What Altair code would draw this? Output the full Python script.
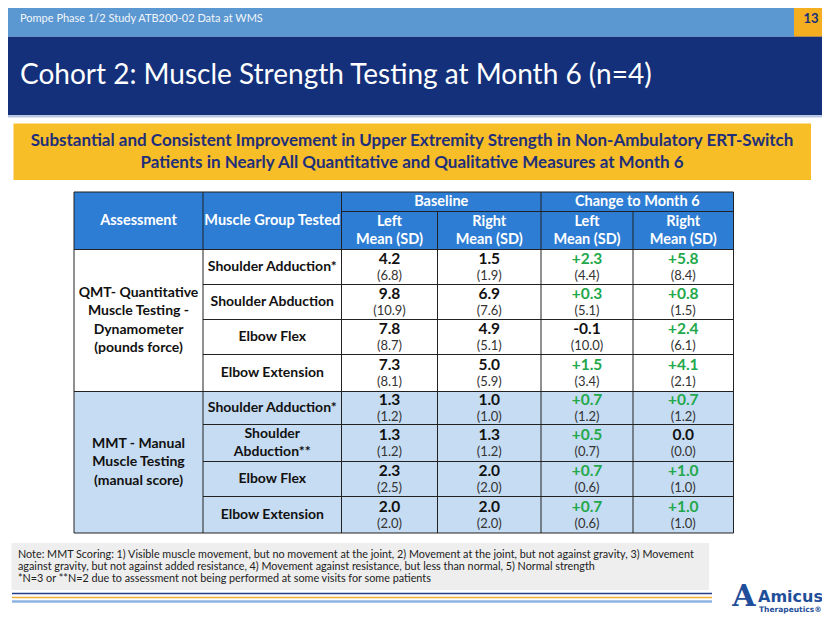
import altair as alt
import pandas as pd

# ------------------------------------------------------------------ data
header_text = "Pompe Phase 1/2 Study ATB200-02 Data at WMS"
page_number = "13"
title_text = "Cohort 2: Muscle Strength Testing at Month 6 (n=4)"
banner_lines = [
    "Substantial and Consistent Improvement in Upper Extremity Strength in Non-Ambulatory ERT-Switch",
    "Patients in Nearly All Quantitative and Qualitative Measures at Month 6",
]
col_headers = ["Assessment", "Muscle Group Tested"]
group_headers = ["Baseline", "Change to Month 6"]
sub_headers = ["Left", "Right", "Left", "Right"]
sub_header_unit = "Mean (SD)"
assessment_lines = [
    ["QMT- Quantitative", "Muscle Testing  -", "Dynamometer", "(pounds force)"],
    ["MMT - Manual", "Muscle Testing", "(manual score)"],
]
muscle_groups = [
    ["Shoulder Adduction*"], ["Shoulder Abduction"], ["Elbow Flex"], ["Elbow Extension"],
    ["Shoulder Adduction*"], ["Shoulder", "Abduction**"], ["Elbow Flex"], ["Elbow Extension"],
]
baseline_left_mean = [4.2, 9.8, 7.8, 7.3, 1.3, 1.3, 2.3, 2.0]
baseline_left_sd = [6.8, 10.9, 8.7, 8.1, 1.2, 1.2, 2.5, 2.0]
baseline_right_mean = [1.5, 6.9, 4.9, 5.0, 1.0, 1.3, 2.0, 2.0]
baseline_right_sd = [1.9, 7.6, 5.1, 5.9, 1.0, 1.2, 2.0, 2.0]
change_left_mean = [2.3, 0.3, -0.1, 1.5, 0.7, 0.5, 0.7, 0.7]
change_left_sd = [4.4, 5.1, 10.0, 3.4, 1.2, 0.7, 0.6, 0.6]
change_right_mean = [5.8, 0.8, 2.4, 4.1, 0.7, 0.0, 1.0, 1.0]
change_right_sd = [8.4, 1.5, 6.1, 2.1, 1.2, 0.0, 1.0, 1.0]
note_lines = [
    "Note: MMT Scoring: 1) Visible muscle movement, but no movement at the joint, 2) Movement at the joint, but not against gravity, 3) Movement",
    "against gravity, but not against added resistance, 4) Movement against resistance, but less than normal, 5) Normal strength",
    "*N=3 or **N=2 due to assessment not being performed at some visits for some patients",
]
logo_name = "Amicus"
logo_sub = "Therapeutics\u00ae"

# ------------------------------------------------------------------ layout
W, H = 814, 607
FONT = "Lato"
DARK = "#14307a"
col_x = [74, 203, 341.5, 437.5, 541, 633, 733.5]
row_y = [249.5, 284.5, 319.5, 354.5, 391.5, 424.5, 461.5, 496.5, 533]
tbl_top, sub_top = 192, 211.5
group_rows = [(0, 4), (4, 8)]

X = lambda f="x": alt.X(f"{f}:Q", scale=alt.Scale(domain=[8, 8 + W], range=[0, W], nice=False, zero=False), axis=None)
Y = lambda f="y": alt.Y(f"{f}:Q", scale=alt.Scale(domain=[8, 8 + H], range=[0, H], nice=False, zero=False), axis=None)

# background rectangles
rects = pd.DataFrame([
    dict(x=0, x2=830, y=0, y2=36.7, c="#5b97d0"),
    dict(x=794, x2=830, y=0, y2=36.7, c="#f5ae1f"),
    dict(x=0, x2=830, y=36.7, y2=115, c=DARK),
    dict(x=0, x2=830, y=115, y2=117.5, c="#b8c7e3"),
    dict(x=13.5, x2=811, y=123.5, y2=180, c="#f7be27"),
    dict(x=col_x[0], x2=col_x[-1], y=tbl_top, y2=row_y[0], c="#2d7dd5"),
    dict(x=col_x[0], x2=col_x[-1], y=row_y[4], y2=row_y[-1], c="#c6dcf2"),
    dict(x=11.5, x2=709, y=543, y2=590, c="#eeeeee"),
])
rect_layer = alt.Chart(rects).mark_rect().encode(
    x=X(), x2="x2:Q", y=Y(), y2="y2:Q", color=alt.Color("c:N", scale=None))

# table lines
lines = []
for xv in [col_x[0], col_x[1], col_x[2], col_x[4], col_x[-1]]:
    lines.append(dict(x=xv, x2=xv, y=tbl_top, y2=row_y[-1]))
for xv in [col_x[3], col_x[5]]:
    lines.append(dict(x=xv, x2=xv, y=sub_top, y2=row_y[-1]))
lines.append(dict(x=col_x[0], x2=col_x[-1], y=tbl_top, y2=tbl_top))
lines.append(dict(x=col_x[2], x2=col_x[-1], y=sub_top, y2=sub_top))
for i, yv in enumerate(row_y):
    full = i in (0, 4, 8)
    lines.append(dict(x=col_x[0] if full else col_x[1], x2=col_x[-1], y=yv, y2=yv))
line_layer = alt.Chart(pd.DataFrame(lines)).mark_rule(color="#222222", strokeWidth=1).encode(
    x=X(), x2="x2:Q", y=Y(), y2="y2:Q")

footer = pd.DataFrame([
    dict(x=12, x2=712, y=593.5, y2=593.5, c="#203e8a", w=1.5),
    dict(x=12, x2=712, y=597.5, y2=597.5, c="#f2ae30", w=1.5),
    dict(x=12, x2=712, y=601.5, y2=601.5, c="#8db4e2", w=2.5),
])
footer_layer = alt.Chart(footer).mark_rule().encode(
    x=X(), x2="x2:Q", y=Y(), y2="y2:Q", color=alt.Color("c:N", scale=None),
    strokeWidth=alt.StrokeWidth("w:Q", scale=None))


def text_layer(rows, size, weight="normal", align="center", font=FONT):
    df = pd.DataFrame(rows, columns=["x", "y", "t", "c"])
    return alt.Chart(df).mark_text(fontSize=size, fontWeight=weight, align=align,
                                   baseline="middle", font=font).encode(
        x=X(), y=Y(), text="t:N", color=alt.Color("c:N", scale=None))


layers = [rect_layer, footer_layer, line_layer]
layers.append(text_layer([(20, 19, header_text, "#f2f6fb")], 11, align="left"))
layers.append(text_layer([(811, 19, page_number, DARK)], 13, "bold"))
layers.append(text_layer([(20, 76, title_text, "#ffffff")], 28, align="left"))
layers.append(text_layer([(412, 141 + 22 * i, s, "#1f2f7a") for i, s in enumerate(banner_lines)], 17, "bold"))

# header texts
hdr = []
hdr.append(((col_x[0] + col_x[1]) / 2, 221, col_headers[0], "#ffffff"))
hdr.append(((col_x[1] + col_x[2]) / 2, 221, col_headers[1], "#ffffff"))
hdr.append(((col_x[2] + col_x[4]) / 2, 202, group_headers[0], "#ffffff"))
hdr.append(((col_x[4] + col_x[6]) / 2, 202, group_headers[1], "#ffffff"))
for j, s in enumerate(sub_headers):
    cx = (col_x[2 + j] + col_x[3 + j]) / 2
    hdr.append((cx, 222, s, "#ffffff"))
    hdr.append((cx, 240, sub_header_unit, "#ffffff"))
layers.append(text_layer(hdr, 14.5, "bold"))

# assessment + muscle group labels
lbl = []
ax = (col_x[0] + col_x[1]) / 2
for (a, b), lines_ in zip(group_rows, assessment_lines):
    cy = (row_y[a] + row_y[b]) / 2
    n = len(lines_)
    for k, s in enumerate(lines_):
        lbl.append((ax, cy + (k - (n - 1) / 2) * 18.5, s, "#111111"))
mx = (col_x[1] + col_x[2]) / 2
for i, lines_ in enumerate(muscle_groups):
    cy = (row_y[i] + row_y[i + 1]) / 2
    n = len(lines_)
    for k, s in enumerate(lines_):
        lbl.append((mx, cy + (k - (n - 1) / 2) * 18, s, "#111111"))
layers.append(text_layer(lbl, 14, "bold"))

# values
means, sds = [], []
cols = [(baseline_left_mean, baseline_left_sd, False), (baseline_right_mean, baseline_right_sd, False),
        (change_left_mean, change_left_sd, True), (change_right_mean, change_right_sd, True)]
for j, (mv, sv, signed) in enumerate(cols):
    cx = (col_x[2 + j] + col_x[3 + j]) / 2
    for i in range(8):
        cy = (row_y[i] + row_y[i + 1]) / 2
        m = mv[i]
        if signed and m > 0:
            txt, col = f"+{m:.1f}", "#22a84a"
        else:
            txt, col = f"{m:.1f}", "#111111"
        means.append((cx, cy - 8, txt, col))
        sds.append((cx, cy + 9, f"({sv[i]:.1f})", "#333333"))
layers.append(text_layer(means, 15.5, "bold"))
layers.append(text_layer(sds, 13))

# note
layers.append(text_layer([(18, 555 + 12.2 * i, s, "#222222") for i, s in enumerate(note_lines)], 10.8, align="left"))

# logo
layers.append(text_layer([(744, 597, "A", "#1f4e9a")], 30, "bold", font="DejaVu Serif"))
layers.append(text_layer([(758, 597, logo_name, "#1f4e9a")], 16, "bold", align="left", font="DejaVu Sans"))
layers.append(text_layer([(759, 610, logo_sub, "#1f4e9a")], 7.5, "bold", align="left", font="DejaVu Sans"))

chart = alt.layer(*layers).properties(
    width=W, height=H, padding=0, autosize=alt.AutoSizeParams(type="none"), background="#ffffff"
).configure_view(stroke=None)

chart.save("out.html", embed_options={"renderer": "svg", "actions": False})
